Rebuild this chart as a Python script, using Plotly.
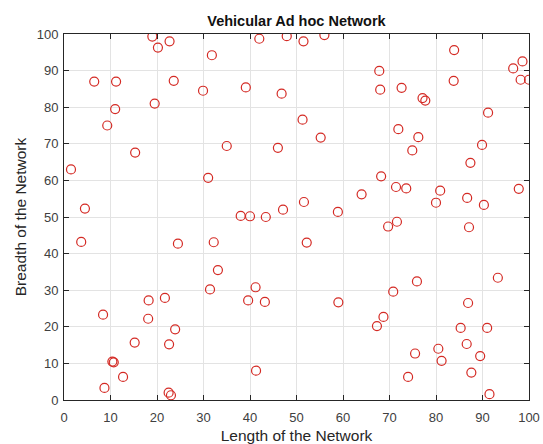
import plotly.graph_objects as go

# Node positions in the network area
node_x = [1.5, 4.5, 6.5, 11.2, 11.0, 9.3, 15.3, 19.0, 20.2, 22.7,
          19.5, 23.6, 29.9, 31.8, 31.0, 35.0, 39.1, 42.0, 46.0, 46.8,
          47.1, 38.0, 40.0, 43.4, 47.9, 51.5, 56.0, 51.3, 55.2, 67.8,
          68.0, 72.6, 77.1, 77.7, 83.9, 83.8, 96.6, 98.6, 98.2, 100.0,
          91.2, 71.9, 76.2, 74.9, 89.9, 87.4, 68.2, 71.4, 73.6, 80.9,
          86.7, 97.8, 64.0, 51.6, 58.9, 80.0, 90.3, 69.7, 71.6, 87.1,
          52.2, 75.9, 93.3, 70.8, 59.0, 86.9, 68.7, 67.3, 85.3, 91.0,
          86.6, 80.5, 75.5, 81.2, 89.5, 87.6, 74.0, 91.5, 3.7, 24.5,
          32.2, 33.1, 31.4, 41.2, 39.6, 43.2, 18.2, 21.7, 8.4, 18.1,
          23.9, 15.2, 22.6, 10.4, 10.7, 12.7, 8.7, 22.5, 23.0, 41.3]
node_y = [63.0, 52.3, 87.0, 87.0, 79.5, 75.0, 67.6, 99.3, 96.3, 98.0,
          81.0, 87.2, 84.5, 94.2, 60.7, 69.4, 85.4, 98.7, 68.9, 83.7,
          52.0, 50.3, 50.2, 50.0, 99.4, 98.0, 99.7, 76.6, 71.7, 89.9,
          84.8, 85.3, 82.5, 81.8, 95.6, 87.2, 90.6, 92.5, 87.5, 87.5,
          78.5, 74.0, 71.8, 68.2, 69.7, 64.8, 61.1, 58.2, 57.8, 57.2,
          55.2, 57.7, 56.2, 54.1, 51.4, 53.9, 53.3, 47.4, 48.7, 47.2,
          43.0, 32.4, 33.4, 29.6, 26.7, 26.5, 22.7, 20.2, 19.7, 19.7,
          15.3, 14.0, 12.7, 10.7, 12.0, 7.5, 6.3, 1.6, 43.2, 42.7,
          43.1, 35.5, 30.2, 30.8, 27.2, 26.8, 27.2, 27.9, 23.3, 22.2,
          19.3, 15.7, 15.2, 10.5, 10.3, 6.3, 3.3, 2.0, 1.3, 8.0]

tick_vals = [0, 10, 20, 30, 40, 50, 60, 70, 80, 90, 100]
tick_text = [str(v) for v in tick_vals]

FONT = "Liberation Sans, Arial"

fig = go.Figure()
fig.add_trace(go.Scatter(
    x=node_x, y=node_y, mode="markers",
    marker=dict(symbol="circle-open", size=9, color="#d42a24",
                line=dict(width=1.2, color="#d42a24")),
    showlegend=False,
))

axis_common = dict(
    range=[0, 100], tickvals=tick_vals, ticktext=tick_text,
    showgrid=True, gridcolor="#e3e3e3", gridwidth=1,
    showline=True, linecolor="#262626", linewidth=1, mirror="ticks",
    ticks="inside", ticklen=5, tickcolor="#262626", zeroline=False,
    tickfont=dict(family=FONT, size=13, color="#404040"),
    fixedrange=True, automargin=False,
)

fig.update_layout(
    width=543, height=444,
    margin=dict(l=64, r=14, t=34, b=44),
    paper_bgcolor="white", plot_bgcolor="white",
    title=dict(text="<b>Vehicular Ad hoc Network</b>", x=0.546, xanchor="center",
               y=0.953, yanchor="middle",
               font=dict(family=FONT, size=14.5, color="#111111")),
    xaxis=dict(**axis_common, ticklabelstandoff=5,
               title=dict(text="Length of the Network", standoff=6,
                          font=dict(family=FONT, size=15.5, color="#262626"))),
    yaxis=dict(**axis_common, ticklabelstandoff=2,
               title=dict(text="Breadth of the Network", standoff=6,
                          font=dict(family=FONT, size=15.5, color="#262626"))),
)

fig.write_html("out.html")
